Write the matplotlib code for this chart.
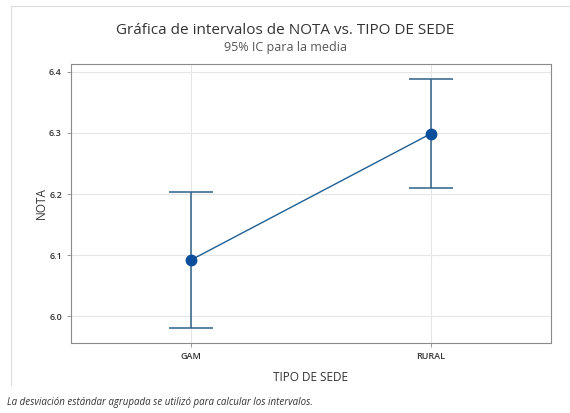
import matplotlib.pyplot as plt
from matplotlib.lines import Line2D

# Interval data
sedes = ["GAM", "RURAL"]
medias = [6.092, 6.299]
ic_inf = [5.980, 6.210]
ic_sup = [6.204, 6.388]
y_ticks = [6.0, 6.1, 6.2, 6.3, 6.4]

plt.rcParams['font.family'] = ['Open Sans', 'DejaVu Sans']

fig = plt.figure(figsize=(5.7, 4.13), dpi=100)
ax = fig.add_axes([71 / 570, 1 - 343 / 413, 480 / 570, 279 / 413])

pos = list(range(len(sedes)))
err_low = [m - lo for m, lo in zip(medias, ic_inf)]
err_high = [hi - m for m, hi in zip(medias, ic_sup)]

ax.plot(pos, medias, color='#1f5f94', lw=1.0, zorder=3)
ax.errorbar(pos, medias, yerr=[err_low, err_high], fmt='none',
            ecolor='#2e6189', elinewidth=1.1, capsize=16, capthick=1.1, zorder=2)
ax.plot(pos, medias, 'o', color='#0b4f9c', ms=7.5, zorder=4)

ax.set_xlim(-0.5, 1.5)
ax.set_ylim(5.956, 6.413)
ax.set_xticks(pos)
ax.set_xticklabels(sedes, fontweight='semibold')
ax.set_yticks(y_ticks)
ax.set_yticklabels([f"{v:.1f}" for v in y_ticks], fontweight='semibold')
ax.grid(True, color='#e6e6e6', lw=0.8)
ax.set_axisbelow(True)
for s in ax.spines.values():
    s.set_color('#8a8a8a')
    s.set_linewidth(0.8)
ax.tick_params(axis='both', labelsize=6.5, colors='#8a8a8a', labelcolor='#333333', length=3, width=0.6)

ax.set_xlabel("TIPO DE SEDE", fontsize=8.5, color='#333333', labelpad=7)
ax.set_ylabel("NOTA", fontsize=8.5, color='#333333', labelpad=1)

fig.text(0.5, 1 - 30 / 413, "Gráfica de intervalos de NOTA vs. TIPO DE SEDE",
         ha='center', va='center', fontsize=11, color='#333333')
fig.text(0.5, 1 - 47 / 413, "95% IC para la media",
         ha='center', va='center', fontsize=9, color='#555555')
fig.text(7 / 570, 1 - 403 / 413,
         "La desviación estándar agrupada se utilizó para calcular los intervalos.",
         ha='left', va='center', fontsize=7, style='italic', color='#333333')

# light frame of the original output window
fig.add_artist(Line2D([11 / 570, 1], [1 - 6 / 413, 1 - 6 / 413], transform=fig.transFigure, color='#dddddd', lw=0.8))
fig.add_artist(Line2D([11 / 570, 11 / 570], [1 - 6 / 413, 1 - 385 / 413], transform=fig.transFigure, color='#dddddd', lw=0.8))

fig.savefig("out.png", dpi=100)
